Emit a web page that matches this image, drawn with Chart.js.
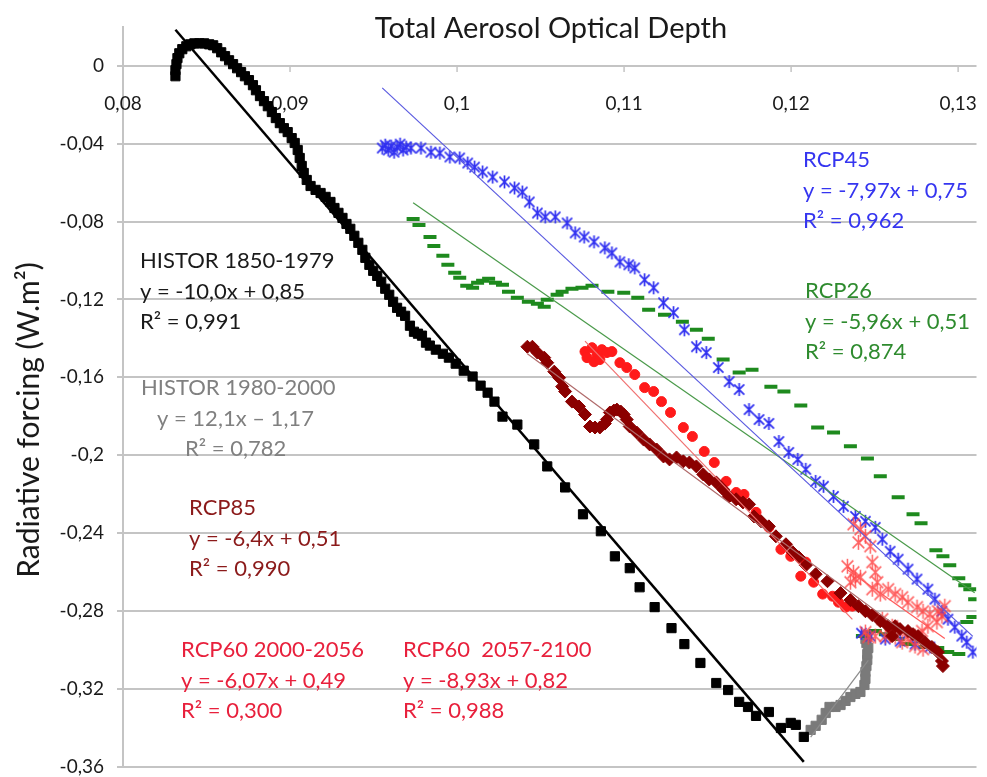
<!DOCTYPE html>
<html>
<head>
<meta charset="utf-8">
<title>Total Aerosol Optical Depth</title>
<script src="https://cdn.jsdelivr.net/npm/chart.js@4.4.1/dist/chart.umd.min.js"></script>
<style>
  html, body { margin: 0; padding: 0; background: #fff; }
  #wrap { width: 987px; height: 777px; }
</style>
</head>
<body>
<div id="wrap"><canvas id="chart" width="987" height="777"></canvas></div>
<script>
// Total AOD (x) vs radiative forcing in W.m² (y)

const histX = [0.08314,0.08314,0.08320,0.08326,0.08337,0.08355,0.08379,0.08403,0.08427,0.08457,0.08486,0.08516,0.08540,0.08564,0.08588,0.08611,0.08635,0.08659,0.08683,0.08707,0.08730,0.08754,0.08778,0.08796,0.08820,0.08844,0.08867,0.08891,0.08915,0.08939,0.08963,0.08986,0.09010,0.09028,0.09046,0.09058,0.09070,0.09082,0.09100,0.09123,0.09153,0.09183,0.09213,0.09242,0.09266,0.09290,0.09314,0.09338,0.09361,0.09385,0.09409,0.09433,0.09451,0.09475,0.09498,0.09522,0.09546,0.09570,0.09594,0.09617,0.09641,0.09665,0.09689,0.09718,0.09742,0.09766,0.09790,0.09814,0.09837,0.09873,0.09915,0.09951,0.09992,0.10040,0.10093,0.10141,0.10183,0.10224,0.10272,0.10361,0.10462,0.10540,0.10647,0.10754,0.10861,0.10945,0.11034,0.11093,0.11183,0.11284,0.11361,0.11457,0.11552,0.11623,0.11689,0.11742,0.11790,0.11867,0.11939,0.11998,0.12028,0.12076];
const histY = [-0.0053,-0.0022,0.0009,0.0040,0.0065,0.0086,0.0101,0.0111,0.0116,0.0116,0.0116,0.0111,0.0106,0.0091,0.0070,0.0050,0.0029,0.0009,-0.0012,-0.0032,-0.0053,-0.0073,-0.0099,-0.0125,-0.0155,-0.0181,-0.0207,-0.0237,-0.0268,-0.0294,-0.0320,-0.0340,-0.0371,-0.0396,-0.0432,-0.0473,-0.0514,-0.0550,-0.0586,-0.0617,-0.0637,-0.0653,-0.0673,-0.0699,-0.0730,-0.0755,-0.0781,-0.0812,-0.0837,-0.0873,-0.0909,-0.0945,-0.0986,-0.1022,-0.1053,-0.1079,-0.1109,-0.1145,-0.1176,-0.1212,-0.1243,-0.1263,-0.1284,-0.1335,-0.1366,-0.1376,-0.1386,-0.1422,-0.1437,-0.1458,-0.1479,-0.1499,-0.1530,-0.1566,-0.1596,-0.1643,-0.1679,-0.1725,-0.1802,-0.1843,-0.1945,-0.2058,-0.2166,-0.2304,-0.2391,-0.2520,-0.2581,-0.2679,-0.2781,-0.2889,-0.2971,-0.3068,-0.3171,-0.3207,-0.3268,-0.3294,-0.3340,-0.3320,-0.3402,-0.3376,-0.3386,-0.3448];

const hist2X = [0.12117,0.12147,0.12183,0.12207,0.12230,0.12266,0.12296,0.12326,0.12355,0.12385,0.12415,0.12439,0.12445,0.12445,0.12451,0.12456,0.12456,0.12462,0.12451,0.12445,0.12456];
const hist2Y = [-0.3412,-0.3391,-0.3360,-0.3325,-0.3294,-0.3294,-0.3284,-0.3263,-0.3243,-0.3227,-0.3217,-0.3181,-0.3150,-0.3114,-0.3084,-0.3053,-0.3022,-0.2991,-0.2966,-0.2945,-0.2925];

const rcp45X = [0.09552,0.09570,0.09588,0.09605,0.09623,0.09641,0.09659,0.09677,0.09695,0.09724,0.09784,0.09844,0.09897,0.09957,0.10016,0.10064,0.10105,0.10153,0.10213,0.10284,0.10344,0.10391,0.10433,0.10481,0.10528,0.10588,0.10659,0.10707,0.10761,0.10820,0.10885,0.10927,0.10975,0.11028,0.11064,0.11123,0.11177,0.11236,0.11296,0.11361,0.11433,0.11492,0.11564,0.11629,0.11689,0.11748,0.11808,0.11867,0.11927,0.11986,0.12040,0.12088,0.12147,0.12194,0.12254,0.12314,0.12385,0.12445,0.12504,0.12546,0.12593,0.12641,0.12700,0.12754,0.12819,0.12861,0.12903,0.12939,0.12980,0.13022,0.13052,0.13088,0.12421,0.12474,0.12564,0.12653,0.12742,0.12831];
const rcp45Y = [-0.0422,-0.0407,-0.0432,-0.0412,-0.0443,-0.0417,-0.0402,-0.0432,-0.0417,-0.0422,-0.0422,-0.0443,-0.0448,-0.0468,-0.0473,-0.0499,-0.0520,-0.0545,-0.0571,-0.0596,-0.0627,-0.0648,-0.0699,-0.0756,-0.0776,-0.0776,-0.0807,-0.0858,-0.0879,-0.0904,-0.0935,-0.0961,-0.1007,-0.1022,-0.1038,-0.1099,-0.1140,-0.1217,-0.1268,-0.1356,-0.1443,-0.1473,-0.1550,-0.1622,-0.1663,-0.1766,-0.1817,-0.1837,-0.1930,-0.1986,-0.2022,-0.2073,-0.2135,-0.2160,-0.2212,-0.2263,-0.2315,-0.2340,-0.2371,-0.2432,-0.2494,-0.2535,-0.2586,-0.2637,-0.2689,-0.2740,-0.2802,-0.2843,-0.2884,-0.2930,-0.2961,-0.3012,-0.2915,-0.2930,-0.2945,-0.2956,-0.2971,-0.2986];

const rcp26X = [0.09737,0.09772,0.09838,0.09861,0.09915,0.09945,0.09986,0.10016,0.10058,0.10093,0.10123,0.10153,0.10189,0.10230,0.10272,0.10308,0.10361,0.10427,0.10481,0.10522,0.10540,0.10599,0.10629,0.10688,0.10748,0.10808,0.10903,0.10998,0.11082,0.11147,0.11242,0.11349,0.11433,0.11504,0.11593,0.11689,0.11766,0.11879,0.11957,0.12058,0.12159,0.12254,0.12355,0.12457,0.12534,0.12641,0.12730,0.12778,0.12867,0.12909,0.12950,0.13004,0.13040,0.13070,0.13099,0.13088,0.13052,0.13004,0.12427,0.12504,0.12564,0.12641,0.12700,0.12801,0.12878,0.12938];
const rcp26Y = [-0.0786,-0.0817,-0.0879,-0.0925,-0.0976,-0.1022,-0.1063,-0.1089,-0.1130,-0.1140,-0.1114,-0.1104,-0.1094,-0.1114,-0.1125,-0.1161,-0.1191,-0.1212,-0.1222,-0.1237,-0.1202,-0.1176,-0.1161,-0.1145,-0.1140,-0.1130,-0.1161,-0.1166,-0.1191,-0.1253,-0.1279,-0.1315,-0.1356,-0.1402,-0.1509,-0.1576,-0.1561,-0.1648,-0.1673,-0.1745,-0.1858,-0.1884,-0.1955,-0.2017,-0.2109,-0.2217,-0.2304,-0.2350,-0.2489,-0.2520,-0.2566,-0.2633,-0.2669,-0.2689,-0.2740,-0.2832,-0.2858,-0.3022,-0.2930,-0.2904,-0.2920,-0.2945,-0.2971,-0.2986,-0.2991,-0.3012];

const rcp85X = [0.10421,0.10451,0.10481,0.10522,0.10540,0.10582,0.10611,0.10629,0.10647,0.10688,0.10730,0.10766,0.10796,0.10826,0.10855,0.10885,0.10897,0.10915,0.10939,0.10957,0.10980,0.10998,0.11016,0.11034,0.11076,0.11117,0.11153,0.11195,0.11236,0.11272,0.11314,0.11355,0.11391,0.11433,0.11474,0.11510,0.11552,0.11593,0.11629,0.11671,0.11712,0.11748,0.11778,0.11820,0.11867,0.11909,0.11969,0.12010,0.12046,0.12088,0.12147,0.12218,0.12296,0.12355,0.12403,0.12445,0.12486,0.12534,0.12581,0.12623,0.12605,0.12652,0.12700,0.12730,0.12760,0.12801,0.12843,0.12879,0.12903,0.12909];
const rcp85Y = [-0.1443,-0.1443,-0.1473,-0.1499,-0.1525,-0.1571,-0.1602,-0.1648,-0.1673,-0.1725,-0.1750,-0.1791,-0.1853,-0.1858,-0.1858,-0.1838,-0.1817,-0.1781,-0.1771,-0.1766,-0.1776,-0.1791,-0.1817,-0.1853,-0.1884,-0.1920,-0.1945,-0.1971,-0.2007,-0.2022,-0.2012,-0.2032,-0.2038,-0.2058,-0.2099,-0.2125,-0.2140,-0.2176,-0.2212,-0.2227,-0.2243,-0.2253,-0.2315,-0.2340,-0.2366,-0.2417,-0.2458,-0.2499,-0.2525,-0.2566,-0.2612,-0.2648,-0.2709,-0.2745,-0.2776,-0.2802,-0.2822,-0.2853,-0.2879,-0.2879,-0.2930,-0.2894,-0.2904,-0.2920,-0.2930,-0.2961,-0.2986,-0.3012,-0.3058,-0.3084];

// RCP60 2057-2100 (circles)
const rcp60bX = [0.10766,0.10808,0.10838,0.10867,0.10897,0.10927,0.10820,0.10855,0.10778,0.10975,0.11016,0.11064,0.11123,0.11177,0.11224,0.11278,0.11355,0.11409,0.11480,0.11540,0.11611,0.11671,0.11718,0.11790,0.11867,0.11939,0.11998,0.12058,0.12088,0.12135,0.12189,0.12248,0.12284,0.12326,0.12367];
const rcp60bY = [-0.1468,-0.1448,-0.1484,-0.1458,-0.1473,-0.1468,-0.1520,-0.1509,-0.1499,-0.1525,-0.1550,-0.1586,-0.1653,-0.1673,-0.1725,-0.1781,-0.1858,-0.1904,-0.1981,-0.2038,-0.2135,-0.2192,-0.2202,-0.2294,-0.2371,-0.2484,-0.2520,-0.2622,-0.2550,-0.2653,-0.2714,-0.2725,-0.2756,-0.2781,-0.2776];

// RCP60 2000-2056 (stars)
const rcp60aX = [0.12373,0.12415,0.12445,0.12403,0.12474,0.12337,0.12373,0.12415,0.12385,0.12355,0.12486,0.12504,0.12516,0.12486,0.12534,0.12581,0.12623,0.12665,0.12700,0.12754,0.12790,0.12831,0.12879,0.12920,0.12903,0.12873,0.12819,0.12784,0.12742,0.12700,0.12665,0.12742,0.12790,0.12623,0.12564,0.12504,0.12462,0.12445,0.12605,0.12546];
const rcp60aY = [-0.2355,-0.2381,-0.2417,-0.2448,-0.2468,-0.2571,-0.2602,-0.2627,-0.2637,-0.2653,-0.2550,-0.2602,-0.2653,-0.2689,-0.2714,-0.2689,-0.2714,-0.2730,-0.2756,-0.2781,-0.2802,-0.2817,-0.2802,-0.2776,-0.2827,-0.2858,-0.2879,-0.2904,-0.2930,-0.2945,-0.2961,-0.2981,-0.2997,-0.2935,-0.2930,-0.2930,-0.2935,-0.2909,-0.2879,-0.2843];

// printed trendline equations (slope, intercept)
const histFit = [-10.0, 0.85];
const rcp45Fit = [-7.97, 0.75];
const rcp26Fit = [-5.96, 0.51];
const rcp60aFit = [-6.07, 0.49];
const rcp60bFit = [-8.93, 0.82];

const xTicks = [0.08, 0.09, 0.1, 0.11, 0.12, 0.13];
const yTicks = [-0.36, -0.32, -0.28, -0.24, -0.2, -0.16, -0.12, -0.08, -0.04, 0];

const fitLabels = [
  ['HISTOR 1850-1979', 'y = -10,0x + 0,85', 'R² = 0,991'],
  ['HISTOR 1980-2000', 'y = 12,1x – 1,17', 'R² = 0,782'],
  ['RCP85', 'y = -6,4x + 0,51', 'R² = 0,990'],
  ['RCP60 2000-2056', 'y = -6,07x + 0,49', 'R² = 0,300'],
  ['RCP60  2057-2100', 'y = -8,93x + 0,82', 'R² = 0,988'],
  ['RCP45', 'y = -7,97x + 0,75', 'R² = 0,962'],
  ['RCP26', 'y = -5,96x + 0,51', 'R² = 0,874']
];

const FONT = 'Lato, "Open Sans", sans-serif';
const fmt = v => String(Math.round(v * 100) / 100).replace('.', ',');
const pts = (xs, ys) => xs.map((x, i) => ({ x, y: ys[i] }));

// trendline across the x range of the series; least squares when no usable printed fit
function trend(xs, ys, fit) {
  let m, b;
  if (fit) {
    [m, b] = fit;
  } else {
    const n = xs.length;
    const mx = xs.reduce((a, c) => a + c, 0) / n;
    const my = ys.reduce((a, c) => a + c, 0) / n;
    let sxy = 0, sxx = 0;
    xs.forEach((x, i) => { sxy += (x - mx) * (ys[i] - my); sxx += (x - mx) * (x - mx); });
    m = sxy / sxx;
    b = my - m * mx;
  }
  const x0 = Math.min(...xs), x1 = Math.max(...xs);
  return [{ x: x0, y: m * x0 + b }, { x: x1, y: m * x1 + b }];
}

function asterisk(color, size, lw) {
  const c = document.createElement('canvas');
  c.width = c.height = size;
  const g = c.getContext('2d');
  const m = size / 2, r = size / 2 - 1, d = r * 0.78;
  g.strokeStyle = color;
  g.lineWidth = lw;
  g.beginPath();
  g.moveTo(m, m - r); g.lineTo(m, m + r);
  g.moveTo(m - d, m - d); g.lineTo(m + d, m + d);
  g.moveTo(m + d, m - d); g.lineTo(m - d, m + d);
  g.stroke();
  return c;
}

function marks(label, xs, ys, style, color, radius, order, extra) {
  return Object.assign({
    label, data: pts(xs, ys), showLine: false, order,
    pointStyle: style, pointRadius: radius, pointHoverRadius: radius,
    backgroundColor: color, borderColor: color, borderWidth: 1
  }, extra || {});
}

function fitLine(xs, ys, fit, color, width) {
  return {
    data: trend(xs, ys, fit), showLine: true, order: 0,
    borderColor: color, borderWidth: width, pointRadius: 0, fill: false
  };
}

const textPlugin = {
  id: 'chartText',
  beforeDatasetsDraw(chart) {
    const { ctx, scales: { x, y } } = chart;
    const y0 = y.getPixelForValue(0);
    ctx.save();
    ctx.strokeStyle = '#c4c4c4';
    ctx.lineWidth = 1.5;
    ctx.fillStyle = '#1a1a1a';
    ctx.font = '19px ' + FONT;
    ctx.textAlign = 'center';
    ctx.textBaseline = 'alphabetic';
    xTicks.forEach(v => {
      const px = x.getPixelForValue(v);
      if (v > xTicks[0]) {
        ctx.beginPath(); ctx.moveTo(px, y0); ctx.lineTo(px, y0 + 6); ctx.stroke();
      }
      ctx.fillText(fmt(v), px, y0 + 44);
    });
    ctx.restore();
  },
  afterDraw(chart) {
    const ctx = chart.ctx;
    ctx.save();
    ctx.textBaseline = 'alphabetic';
    ctx.fillStyle = '#1a1a1a';
    ctx.textAlign = 'center';
    ctx.font = '29px ' + FONT;
    ctx.fillText('Total Aerosol Optical Depth', 551, 38);

    ctx.save();
    ctx.translate(39, 420);
    ctx.rotate(-Math.PI / 2);
    ctx.font = '30px ' + FONT;
    ctx.fillText('Radiative forcing (W.m²)', 0, 0);
    ctx.restore();

    // where each equation block sits: [left, first baseline, colour, line indents]
    const place = [
      [140, 268, '#1a1a1a', [0, 0, 0]],
      [141, 395, '#808080', [0, 16, 44]],
      [189, 515, '#8b1a1a', [0, 0, 0]],
      [181, 657, '#e8203c', [0, 0, 0]],
      [403, 657, '#e8203c', [0, 0, 0]],
      [803, 167, '#3535f0', [0, 0, 0]],
      [805, 298, '#2e8b2e', [0, 0, 0]]
    ];
    ctx.textAlign = 'left';
    ctx.font = '22px ' + FONT;
    fitLabels.forEach((lines, i) => {
      const [lx, ly, col, ind] = place[i];
      ctx.fillStyle = col;
      lines.forEach((t, j) => ctx.fillText(t, lx + ind[j], ly + j * 30.5));
    });
    ctx.restore();
  }
};

new Chart(document.getElementById('chart'), {
  type: 'scatter',
  data: {
    datasets: [
      fitLine(histX, histY, histFit, '#000000', 2.5),
      fitLine(hist2X, hist2Y, null, '#8c8c8c', 1.2),
      fitLine(rcp45X, rcp45Y, rcp45Fit, '#5a5ae0', 1.2),
      fitLine(rcp26X, rcp26Y, rcp26Fit, '#4a9a4a', 1.2),
      fitLine(rcp85X, rcp85Y, null, '#b06a6a', 1.2),
      fitLine(rcp60bX, rcp60bY, rcp60bFit, '#f07070', 1.2),
      fitLine(rcp60aX, rcp60aY, rcp60aFit, '#ff5a5a', 1.2),
      marks('HISTOR 1850-1979', histX, histY, 'rect', '#000000', 6.5, 1),
      marks('RCP85', rcp85X, rcp85Y, 'rectRot', '#8b0000', 6.5, 2),
      marks('RCP60 2057-2100', rcp60bX, rcp60bY, 'circle', '#ff1a1a', 5, 3),
      marks('RCP60 2000-2056', rcp60aX, rcp60aY, asterisk('rgba(255,70,70,0.85)', 17, 1.5), '#ff4646', 8, 4),
      marks('RCP45', rcp45X, rcp45Y, asterisk('#3030f0', 15, 1.7), '#3030f0', 7, 5),
      marks('RCP26', rcp26X, rcp26Y, 'line', '#1e8a1e', 6.5, 6, { borderWidth: 4 }),
      marks('HISTOR 1980-2000', hist2X, hist2Y, 'rect', '#7a7a7a', 6.5, 7)
    ]
  },
  options: {
    responsive: false,
    animation: false,
    devicePixelRatio: 1,
    layout: { padding: { left: 0, top: 27, right: 6, bottom: 9 } },
    plugins: {
      legend: { display: false },
      tooltip: { enabled: false },
      title: { display: false }
    },
    scales: {
      x: { type: 'linear', min: 0.08, max: 0.1311, display: false },
      y: {
        type: 'linear', min: -0.36, max: 0.02,
        afterFit(s) { s.width = 123; s.paddingTop = 0; s.paddingBottom = 0; },
        afterBuildTicks(s) { s.ticks = yTicks.map(v => ({ value: v })); },
        grid: { color: '#c4c4c4', lineWidth: 2, tickLength: 6 },
        border: { color: '#c4c4c4', width: 2 },
        ticks: { padding: 13, color: '#1a1a1a', font: { family: FONT, size: 19 }, callback: v => fmt(v) }
      }
    }
  },
  plugins: [textPlugin]
});
</script>
</body>
</html>
